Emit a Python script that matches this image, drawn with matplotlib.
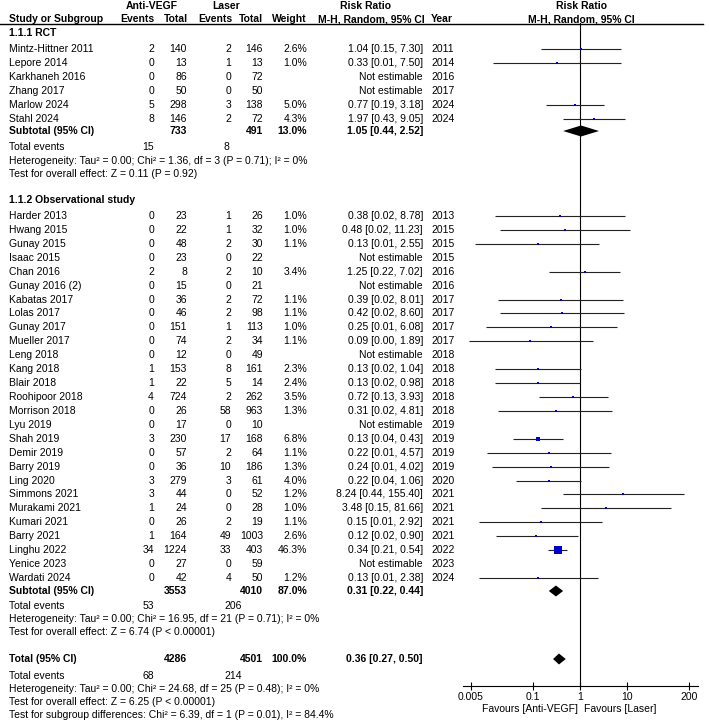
import matplotlib
matplotlib.use("Agg")
import matplotlib.pyplot as plt
from matplotlib.patches import Polygon
import numpy as np

plt.rcParams['font.family'] = ['Liberation Sans', 'DejaVu Sans']
FS = 7.5

# ---- 1.1.1 RCT ----
rct_names = ["Mintz-Hittner 2011", "Lepore 2014", "Karkhaneh 2016", "Zhang 2017",
             "Marlow 2024", "Stahl 2024"]
rct_ev_av = [2, 0, 0, 0, 5, 8]
rct_tot_av = [140, 13, 86, 50, 298, 146]
rct_ev_l = [2, 1, 0, 0, 3, 2]
rct_tot_l = [146, 13, 72, 50, 138, 72]
rct_weight = [2.6, 1.0, None, None, 5.0, 4.3]
rct_rr = [1.04, 0.33, None, None, 0.77, 1.97]
rct_lo = [0.15, 0.0148, None, None, 0.19, 0.43]
rct_hi = [7.30, 7.50, None, None, 3.18, 9.05]
rct_year = [2011, 2014, 2016, 2017, 2024, 2024]

# ---- 1.1.2 Observational study ----
obs_names = ["Harder 2013", "Hwang 2015", "Gunay 2015", "Isaac 2015", "Chan 2016",
             "Gunay 2016 (2)", "Kabatas 2017", "Lolas 2017", "Gunay 2017", "Mueller 2017",
             "Leng 2018", "Kang 2018", "Blair 2018", "Roohipoor 2018", "Morrison 2018",
             "Lyu 2019", "Shah 2019", "Demir 2019", "Barry 2019", "Ling 2020",
             "Simmons 2021", "Murakami 2021", "Kumari 2021", "Barry 2021", "Linghu 2022",
             "Yenice 2023", "Wardati 2024"]
obs_ev_av = [0, 0, 0, 0, 2, 0, 0, 0, 0, 0, 0, 1, 1, 4, 0, 0, 3, 0, 0, 3, 3, 1, 0, 1, 34, 0, 0]
obs_tot_av = [23, 22, 48, 23, 8, 15, 36, 46, 151, 74, 12, 153, 22, 724, 26, 17, 230, 57, 36,
              279, 44, 24, 26, 164, 1224, 27, 42]
obs_ev_l = [1, 1, 2, 0, 2, 0, 2, 2, 1, 2, 0, 8, 5, 2, 58, 0, 17, 2, 10, 3, 0, 0, 2, 49, 33, 0, 4]
obs_tot_l = [26, 32, 30, 22, 10, 21, 72, 98, 113, 34, 49, 161, 14, 262, 963, 10, 168, 64, 186,
             61, 52, 28, 19, 1003, 403, 59, 50]
obs_weight = [1.0, 1.0, 1.1, None, 3.4, None, 1.1, 1.1, 1.0, 1.1, None, 2.3, 2.4, 3.5, 1.3,
              None, 6.8, 1.1, 1.3, 4.0, 1.2, 1.0, 1.1, 2.6, 46.3, None, 1.2]
obs_rr = [0.38, 0.48, 0.13, None, 1.25, None, 0.39, 0.42, 0.25, 0.09, None, 0.13, 0.13, 0.72,
          0.31, None, 0.13, 0.22, 0.24, 0.22, 8.24, 3.48, 0.15, 0.12, 0.34, None, 0.13]
obs_lo = [0.0158, 0.020, 0.0062, None, 0.22, None, 0.019, 0.020, 0.0102, 0.0046, None, 0.016,
          0.016, 0.134, 0.019, None, 0.038, 0.011, 0.014, 0.045, 0.44, 0.15, 0.0075, 0.017,
          0.21, None, 0.0073]
obs_hi = [8.78, 11.23, 2.55, None, 7.02, None, 8.01, 8.60, 6.08, 1.89, None, 1.04, 0.98, 3.93,
          4.81, None, 0.43, 4.57, 4.02, 1.06, 155.40, 81.66, 2.92, 0.90, 0.54, None, 2.38]
obs_year = [2013, 2015, 2015, 2015, 2016, 2016, 2017, 2017, 2017, 2017, 2018, 2018, 2018, 2018,
            2018, 2019, 2019, 2019, 2019, 2020, 2021, 2021, 2021, 2021, 2022, 2023, 2024]

# pooled results: total AV, total laser, weight, RR, lo, hi, events AV, events laser
sub_rct = [733, 491, 13.0, 1.05, 0.44, 2.52, 15, 8]
sub_obs = [3553, 4010, 87.0, 0.31, 0.22, 0.44, 53, 206]
overall = [4286, 4501, 100.0, 0.36, 0.27, 0.50, 68, 214]

het_rct = ["Heterogeneity: Tau² = 0.00; Chi² = 1.36, df = 3 (P = 0.71); I² = 0%",
           "Test for overall effect: Z = 0.11 (P = 0.92)"]
het_obs = ["Heterogeneity: Tau² = 0.00; Chi² = 16.95, df = 21 (P = 0.71); I² = 0%",
           "Test for overall effect: Z = 6.74 (P < 0.00001)"]
het_all = ["Heterogeneity: Tau² = 0.00; Chi² = 24.68, df = 25 (P = 0.48); I² = 0%",
           "Test for overall effect: Z = 6.25 (P < 0.00001)",
           "Test for subgroup differences: Chi² = 6.39, df = 1 (P = 0.01), I² = 84.4%"]

ticks = [0.005, 0.1, 1, 10, 200]
tick_labels = ["0.005", "0.1", "1", "10", "200"]

# ---- layout (pixel coordinates) ----
W, H = 709, 724
X_NAME, X_EV1, X_TOT1, X_EV2, X_TOT2, X_W, X_RR, X_YEAR = 9, 154, 187, 231, 263, 307, 423, 431
AX_TOP, AX_BOT = 23, 686
DEC = 47.37

fig = plt.figure(figsize=(W / 100, H / 100), dpi=100)
ax_t = fig.add_axes([0, 0, 1, 1])
ax_t.set_xlim(0, W)
ax_t.set_ylim(H, 0)
ax_t.axis('off')

xl0, xl1 = 463, 698
ax = fig.add_axes([xl0 / W, (H - AX_BOT) / H, (xl1 - xl0) / W, (AX_BOT - AX_TOP) / H])
ax.set_xscale('log')
ax.set_xlim(10 ** ((xl0 - 580) / DEC), 10 ** ((xl1 - 580) / DEC))
ax.set_ylim(AX_BOT, AX_TOP)
ax.patch.set_alpha(0)
for s in ['top', 'left', 'right']:
    ax.spines[s].set_visible(False)
ax.spines['bottom'].set_linewidth(0.8)
ax.set_yticks([])
ax.set_xticks(ticks)
ax.set_xticklabels(tick_labels)
ax.minorticks_off()
ax.tick_params(axis='x', direction='inout', length=6, width=0.8, pad=1.5, labelsize=FS)
ax.axvline(1, color='black', lw=0.8)


def txt(x, y, s, ha='left', bold=False):
    ax_t.text(x, y, s, ha=ha, va='center', fontsize=FS,
              fontweight='bold' if bold else 'normal')


def ci_str(rr, lo, hi):
    return "%.2f [%.2f, %.2f]" % (rr, lo, hi)


def study_row(y, name, e1, t1, e2, t2, w, rr, lo, hi, yr):
    txt(X_NAME, y, name)
    txt(X_EV1, y, str(e1), 'right')
    txt(X_TOT1, y, str(t1), 'right')
    txt(X_EV2, y, str(e2), 'right')
    txt(X_TOT2, y, str(t2), 'right')
    if rr is None:
        txt(X_RR, y, "Not estimable", 'right')
    else:
        txt(X_W, y, "%.1f%%" % w, 'right')
        txt(X_RR, y, ci_str(rr, lo, hi), 'right')
        ax.plot([lo, hi], [y, y], color='#222222', lw=0.8, solid_capstyle='butt')
        side = max(2.0, 1.18 * np.sqrt(w)) * 0.72
        ax.plot([rr], [y], marker='s', ms=side, color='#0000CC', mec='#0000CC', mew=0)
    txt(X_YEAR, y, str(yr))


def pooled_row(y, label, res):
    txt(X_NAME, y, label, bold=True)
    txt(X_TOT1, y, str(res[0]), 'right', True)
    txt(X_TOT2, y, str(res[1]), 'right', True)
    txt(X_W, y, "%.1f%%" % res[2], 'right', True)
    txt(X_RR, y, ci_str(res[3], res[4], res[5]), 'right', True)
    ax.add_patch(Polygon([(res[4], y), (res[3], y - 5.5), (res[5], y), (res[3], y + 5.5)],
                         closed=True, color='black', lw=0))


def events_row(y, res):
    txt(X_NAME, y, "Total events")
    txt(X_EV1, y, str(res[6]), 'right')
    txt(224, y, str(res[7]))


# header
ax_t.text(152, 6, "Anti-VEGF", ha='center', va='center', fontsize=FS, fontweight='bold')
ax_t.text(226, 6, "Laser", ha='center', va='center', fontsize=FS, fontweight='bold')
ax_t.text(366, 6, "Risk Ratio", ha='center', va='center', fontsize=FS, fontweight='bold')
ax_t.text(581, 6, "Risk Ratio", ha='center', va='center', fontsize=FS, fontweight='bold')
txt(X_NAME, 19, "Study or Subgroup", bold=True)
txt(X_EV1, 19, "Events", 'right', True)
txt(X_TOT1 + 1, 19, "Total", 'right', True)
txt(X_EV2 + 1, 19, "Events", 'right', True)
txt(X_TOT2, 19, "Total", 'right', True)
txt(X_W, 19, "Weight", 'right', True)
txt(425, 19, "M-H, Random, 95% CI", 'right', True)
txt(X_YEAR, 19, "Year", bold=True)
ax_t.text(581, 19, "M-H, Random, 95% CI", ha='center', va='center', fontsize=FS,
          fontweight='bold')
ax_t.plot([0, 703], [AX_TOP + 1, AX_TOP + 1], color='black', lw=1.0)

# RCT block
txt(X_NAME, 33, "1.1.1 RCT", bold=True)
for i in range(len(rct_names)):
    study_row(49 + 14 * i, rct_names[i], rct_ev_av[i], rct_tot_av[i], rct_ev_l[i],
              rct_tot_l[i], rct_weight[i], rct_rr[i], rct_lo[i], rct_hi[i], rct_year[i])
pooled_row(131, "Subtotal (95% CI)", sub_rct)
events_row(147, sub_rct)
txt(X_NAME, 161, het_rct[0])
txt(X_NAME, 174, het_rct[1])

# observational block
txt(X_NAME, 200, "1.1.2 Observational study", bold=True)
step = (578 - 216) / (len(obs_names) - 1)
for i in range(len(obs_names)):
    study_row(216 + step * i, obs_names[i], obs_ev_av[i], obs_tot_av[i], obs_ev_l[i],
              obs_tot_l[i], obs_weight[i], obs_rr[i], obs_lo[i], obs_hi[i], obs_year[i])
pooled_row(591, "Subtotal (95% CI)", sub_obs)
events_row(606, sub_obs)
txt(X_NAME, 619, het_obs[0])
txt(X_NAME, 632, het_obs[1])

# overall
pooled_row(659, "Total (95% CI)", overall)
events_row(676, overall)
for i, s in enumerate(het_all):
    txt(X_NAME, 689 + 13 * i, s)

txt(578, 709, "Favours [Anti-VEGF]", 'right')
txt(584, 709, "Favours [Laser]")

fig.savefig("out.png", dpi=100)
